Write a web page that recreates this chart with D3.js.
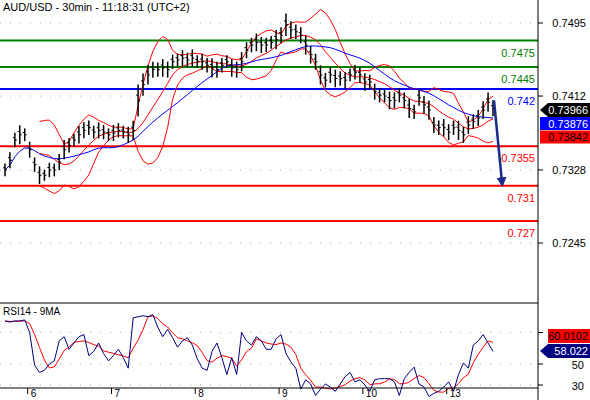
<!DOCTYPE html>
<html><head><meta charset="utf-8">
<script src="https://cdn.jsdelivr.net/npm/d3@7"></script>
<style>body{margin:0;background:#fff}text{font-family:"Liberation Sans",Arial,sans-serif}</style>
</head><body><svg id="chart"></svg>
<script>
// closes per bar, ~2.7 real 30min bars each
const closes = [0.7328,0.7339,0.7362,0.7368,0.7368,0.7351,0.7334,0.7322,0.7322,0.7328,0.7328,0.7337,0.7351,0.7356,0.7362,0.7368,0.7373,0.7376,0.7371,0.7373,
  0.7371,0.7368,0.7370,0.7373,0.7371,0.7368,0.7373,0.7407,0.7425,0.7436,0.7442,0.7442,0.7444,0.7442,0.7451,0.7453,0.7455,0.7453,0.7455,0.7451,
  0.7451,0.7447,0.7444,0.7442,0.7447,0.7451,0.7444,0.7442,0.7451,0.7464,0.7470,0.7473,0.7470,0.7470,0.7473,0.7476,0.7481,0.7493,0.7487,0.7485,
  0.7481,0.7470,0.7459,0.7451,0.7436,0.7430,0.7436,0.7432,0.7432,0.7430,0.7436,0.7439,0.7436,0.7428,0.7428,0.7417,0.7413,0.7412,0.7407,0.7407,
  0.7413,0.7407,0.7398,0.7394,0.7410,0.7402,0.7396,0.7379,0.7376,0.7376,0.7371,0.7376,0.7373,0.7368,0.7379,0.7383,0.7387,0.7396,0.7405,0.7398];
const spreads = [8,10,9,12,8,10,9,11,7,9,8,10,12,9,8,11,10,9,8,10,
  9,8,10,9,8,10,12,20,14,12,10,9,11,10,9,8,10,9,11,8,
  10,9,12,10,9,8,11,10,12,10,9,11,10,9,8,12,10,14,11,9,
  10,12,11,10,12,9,10,11,9,10,8,9,10,11,9,10,9,8,11,10,
  9,10,12,9,10,11,12,10,9,11,10,9,12,10,11,9,10,11,12,10];
const rsiVals = [91,90,91,91,92,80,49,42,44,50,53,72,76,64,70,76,78,58,62,70,
  60,53,58,64,56,46,94,95,96,95,97,85,76,83,75,66,72,75,68,55,
  46,44,62,70,56,40,56,40,80,72,68,76,72,64,64,74,78,60,52,46,
  26,35,31,20,26,31,28,24,31,38,42,33,35,30,24,35,36,36,36,33,
  20,36,42,47,31,28,19,22,24,28,33,24,40,51,46,68,72,78,70,62];
const dayTicks = [4.6, 21.6, 38.6, 55.6, 72.6, 89.6];
const dayLabels = ["6","7","8","9","10","13"];
const priceTicks = [0.7495, 0.7412, 0.7328, 0.7245];
const levels = [
  {v:0.7475,c:"#008000",l:"0.7475"},{v:0.7445,c:"#008000",l:"0.7445"},
  {v:0.742,c:"#0000ff",l:"0.742"},{v:0.7355,c:"#ff0000",l:"0.7355"},
  {v:0.731,c:"#ff0000",l:"0.731"},{v:0.727,c:"#ff0000",l:"0.727"}];
const tags = [{l:"0.73966",c:"#000"},{l:"0.73876",c:"#0000ff"},{l:"0.73842",c:"#ff0000"}];
const rsiTicks = [80, 50, 30];
const rsiLabels = [50, 30];

const W = 590, H = 400, R = 538;
const svg = d3.select("#chart").attr("width", W).attr("height", H);
const n = closes.length;
const x = d3.scaleLinear().domain([0, n - 1]).range([5, 493]);
const y = d3.scaleLinear().domain([0.7245, 0.7495]).range([243, 23]);
const yr = d3.scaleLinear().domain([30, 50]).range([385, 364]);

// indicators
function sma(a, p) { return a.map((d, i) => i < p - 1 ? null : d3.mean(a.slice(i - p + 1, i + 1))); }
const ma = closes.map((d, i) => d3.mean(closes.slice(Math.max(0, i - 17), i + 1)));
const bbMid = sma(closes, 8);
const bbUp = [], bbLo = [];
closes.forEach((d, i) => {
  if (i < 7) { bbUp.push(null); bbLo.push(null); return; }
  const s = d3.deviation(closes.slice(i - 7, i + 1));
  bbUp.push(bbMid[i] + 2 * s); bbLo.push(bbMid[i] - 2 * s);
});
const rsiMa = rsiVals.map((d, i) => d3.mean(rsiVals.slice(Math.max(0, i - 3), i + 1)));

// grids
svg.selectAll(".pg").data(priceTicks).join("line")
  .attr("x1", 0).attr("x2", R).attr("y1", d => y(d)).attr("y2", d => y(d))
  .attr("stroke", "#aaa").attr("stroke-dasharray", "1,9");
svg.selectAll(".rg").data(rsiTicks).join("line")
  .attr("x1", 0).attr("x2", R).attr("y1", d => yr(d)).attr("y2", d => yr(d))
  .attr("stroke", "#aaa").attr("stroke-dasharray", "1,9");

// levels
svg.selectAll(".lv").data(levels).join("line")
  .attr("x1", 0).attr("x2", R).attr("y1", d => y(d.v)).attr("y2", d => y(d.v))
  .attr("stroke", d => d.c).attr("stroke-width", 2);
svg.selectAll(".lvt").data(levels).join("text")
  .attr("x", 535).attr("y", d => y(d.v) + 16).attr("text-anchor", "end")
  .attr("font-size", 11).attr("fill", d => d.c).text(d => d.l);

const line = d3.line().defined(d => d[1] != null).x(d => x(d[0]));
const pl = (arr, col, sc) => svg.append("path")
  .datum(arr.map((d, i) => [i, d]))
  .attr("d", line.y(d => sc(d[1]))).attr("fill", "none").attr("stroke", col).attr("stroke-width", 1);
pl(bbUp, "#ff0000", y); pl(bbLo, "#ff0000", y); pl(bbMid, "#ff0000", y);
pl(ma, "#0000ff", y);

// bars
const bars = svg.append("g").attr("stroke", "#000");
closes.forEach((c, i) => {
  const h = spreads[i] / 11000;
  bars.append("line").attr("x1", x(i)).attr("x2", x(i)).attr("y1", y(c + h)).attr("y2", y(c - h)).attr("stroke-width", 1.5);
  bars.append("line").attr("x1", x(i) - 2).attr("x2", x(i)).attr("y1", y(c + h / 3)).attr("y2", y(c + h / 3));
  bars.append("line").attr("x1", x(i)).attr("x2", x(i) + 2).attr("y1", y(c)).attr("y2", y(c));
});

// arrow
svg.append("defs").append("marker").attr("id", "ah").attr("viewBox", "0 0 10 10")
  .attr("refX", 5).attr("refY", 5).attr("markerWidth", 4).attr("markerHeight", 4).attr("orient", "auto")
  .append("path").attr("d", "M0,0L10,5L0,10z").attr("fill", "#1a2a8a");
svg.append("line").attr("x1", x(n - 1) + 1).attr("y1", y(0.7407)).attr("x2", 502).attr("y2", y(0.7314))
  .attr("stroke", "#1a2a8a").attr("stroke-width", 2.5).attr("marker-end", "url(#ah)");

// RSI
pl(rsiMa, "#ff0000", yr);
pl(rsiVals, "#000080", yr);

// frame
svg.append("line").attr("x1", R).attr("x2", R).attr("y1", 0).attr("y2", H).attr("stroke", "#000");
svg.append("line").attr("x1", 0).attr("x2", R).attr("y1", 303).attr("y2", 303).attr("stroke", "#000");
svg.append("line").attr("x1", 0).attr("x2", R).attr("y1", 388).attr("y2", 388).attr("stroke", "#000");

// axes text
svg.selectAll(".pt").data(priceTicks).join("text")
  .attr("x", 586).attr("y", d => y(d) + 4).attr("text-anchor", "end").attr("font-size", 11).text(d => d.toFixed(4));
svg.selectAll(".ptk").data(priceTicks).join("line")
  .attr("x1", R).attr("x2", R + 5).attr("y1", d => y(d)).attr("y2", d => y(d)).attr("stroke", "#000");
svg.selectAll(".rt").data(rsiLabels).join("text")
  .attr("x", 584).attr("y", d => yr(d) + 5).attr("text-anchor", "end").attr("font-size", 11).text(d => d);
svg.selectAll(".rtk").data(rsiTicks).join("line")
  .attr("x1", R).attr("x2", R + 5).attr("y1", d => yr(d)).attr("y2", d => yr(d)).attr("stroke", "#000");
svg.selectAll(".dt").data(dayTicks).join("line")
  .attr("x1", d => x(d)).attr("x2", d => x(d)).attr("y1", 388).attr("y2", 394).attr("stroke", "#000");
svg.selectAll(".dl").data(dayTicks).join("text")
  .attr("x", d => x(d) + 3).attr("y", 397).attr("font-size", 10).text((d, i) => dayLabels[i]);

// price tags
tags.forEach((t, i) => {
  const ty = 110 + i * 13.5;
  svg.append("path").attr("d", i === 0 ? `M540,${ty}L548,${ty - 7}H590V${ty + 7}H548Z` : `M540,${ty - 6.5}H590V${ty + 6.5}H540Z`)
    .attr("fill", t.c);
  svg.append("text").attr("x", 588).attr("y", ty + 4).attr("text-anchor", "end")
    .attr("font-size", 11).attr("fill", i === 2 ? "#000" : "#fff").text(t.l);
});
[["60.0102", "#ff0000", 336, "#000"], ["58.022", "#000080", 351, "#fff"]].forEach(([l, c, ty, tc], i) => {
  svg.append("path").attr("d", i === 1 ? `M540,${ty}L548,${ty - 7}H590V${ty + 7}H548Z` : `M548,${ty - 7}H590V${ty + 7}H548Z`).attr("fill", c);
  svg.append("text").attr("x", 588).attr("y", ty + 4).attr("text-anchor", "end").attr("font-size", 11).attr("fill", tc).text(l);
});

svg.append("text").attr("x", 3).attr("y", 11).attr("font-size", 11).text("AUD/USD - 30min - 11:18:31 (UTC+2)");
svg.append("text").attr("x", 3).attr("y", 315).attr("font-size", 10).text("RSI14 - 9MA");
</script></body></html>
